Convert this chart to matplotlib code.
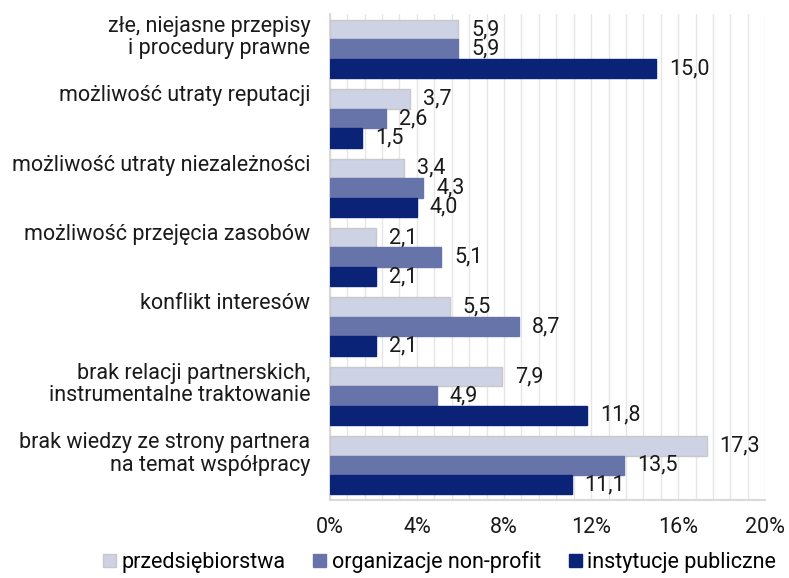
import numpy as np
import matplotlib.pyplot as plt
from matplotlib.ticker import MultipleLocator, FuncFormatter

plt.rcParams['font.family'] = ['Roboto', 'DejaVu Sans']

categories = ['złe, niejasne przepisy\ni procedury prawne',
              'możliwość utraty reputacji',
              'możliwość utraty niezależności',
              'możliwość przejęcia zasobów',
              'konflikt interesów',
              'brak relacji partnerskich,\ninstrumentalne traktowanie',
              'brak wiedzy ze strony partnera\nna temat współpracy']
series_names = ['przedsiębiorstwa', 'organizacje non-profit', 'instytucje publiczne']
przedsiebiorstwa = [5.9, 3.7, 3.4, 2.1, 5.5, 7.9, 17.3]
non_profit = [5.9, 2.6, 4.3, 5.1, 8.7, 4.9, 13.5]
instytucje = [15.0, 1.5, 4.0, 2.1, 2.1, 11.8, 11.1]
colors = ['#cdd2e4', '#6674aa', '#0a2377']
edges = ['#c8c8c8', '#6674aa', '#0a2377']

fs = 15.5

fig = plt.figure(figsize=(7.89, 5.78), dpi=100)
ax = fig.add_axes([0.418, 0.135, 0.552, 0.84])

h = 0.28
y = np.arange(len(categories))
series = [przedsiebiorstwa, non_profit, instytucje]
for i, vals in enumerate(series):
    pos = y + (i - 1) * h
    ax.barh(pos, vals, height=h, color=colors[i], edgecolor=edges[i],
            linewidth=1, label=series_names[i], zorder=3)
    for p, v in zip(pos, vals):
        ax.text(v + 0.6, p, f'{v:.1f}'.replace('.', ','), va='center',
                ha='left', fontsize=fs, color='#1a1a1a')

ax.set_ylim(len(categories) - 0.5, -0.5)
ax.set_xlim(0, 20)
ax.set_yticks([])
for k, c in enumerate(categories):
    ax.text(-0.9, k - 0.5 + 0.02, c, ha='right', va='top', fontsize=fs,
            color='#1a1a1a', linespacing=1.1)

ax.xaxis.set_major_locator(MultipleLocator(4))
ax.xaxis.set_minor_locator(MultipleLocator(0.8))
ax.xaxis.set_major_formatter(FuncFormatter(lambda v, _: f'{v:.0f}%'))
ax.grid(axis='x', which='both', color='#e6e6e6', linewidth=1, zorder=0)
ax.tick_params(axis='x', which='both', length=0, labelsize=fs, pad=12,
               colors='#1a1a1a')
for s in ['top', 'right']:
    ax.spines[s].set_visible(False)
for s in ['left', 'bottom']:
    ax.spines[s].set_color('#d9d9d9')
    ax.spines[s].set_linewidth(1.5)

handles, labels = ax.get_legend_handles_labels()
fig.legend(handles, labels, loc='lower center', ncol=3, frameon=False,
           fontsize=fs, bbox_to_anchor=(0.557, -0.025), handlelength=0.6,
           handleheight=0.6, handletextpad=0.25, columnspacing=1.3)

fig.savefig('out.png', dpi=100)
